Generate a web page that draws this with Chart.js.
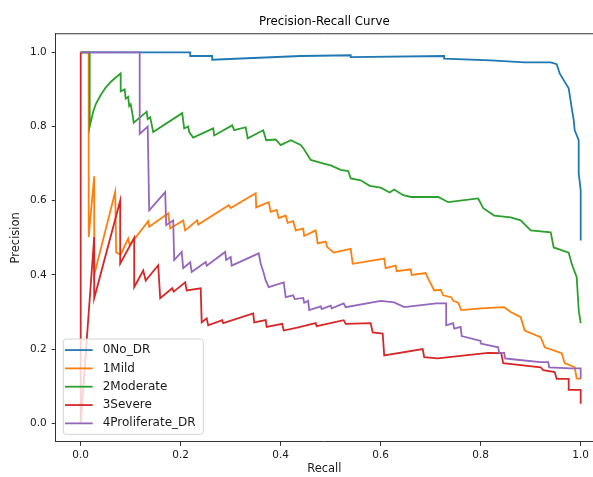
<!DOCTYPE html>
<html>
<head>
<meta charset="utf-8">
<title>Precision-Recall Curve</title>
<script src="https://cdn.jsdelivr.net/npm/chart.js@4.4.1/dist/chart.umd.min.js"></script>
<style>
	html, body { margin: 0; padding: 0; background: #fff; overflow: hidden; }
</style>
</head>
<body>
<canvas id="prChart" width="593" height="477"></canvas>
<script>
// class names (legend order)
const classNames = ['0No_DR', '1Mild', '2Moderate', '3Severe', '4Proliferate_DR'];
const classColors = ['#1f77b4', '#ff7f0e', '#2ca02c', '#d62728', '#9467bd'];

// tick labels
const recallTicks = [0.0, 0.2, 0.4, 0.6, 0.8, 1.0];
const precisionTicks = [0.0, 0.2, 0.4, 0.6, 0.8, 1.0];

// curves as [recall, precision] pairs
const noDrCurve = [
	[0, 1], [0.219, 1], [0.219, 0.99], [0.263, 0.99], [0.263, 0.98], [0.44, 0.99],
	[0.54, 0.992], [0.54, 0.987], [0.727, 0.99], [0.727, 0.983], [0.82, 0.978],
	[0.888, 0.973], [0.94, 0.973], [0.952, 0.968], [0.958, 0.943], [0.966, 0.925],
	[0.976, 0.903], [0.982, 0.85], [0.986, 0.817], [0.988, 0.79], [0.996, 0.763],
	[0.996, 0.674], [1.0, 0.628], [1.0, 0.493]
];

const mildCurve = [
	[0, 1], [0.016, 1], [0.016, 0.502], [0.027, 0.666], [0.027, 0.40], [0.069, 0.624],
	[0.071, 0.46], [0.08, 0.455], [0.095, 0.498], [0.098, 0.48], [0.135, 0.545],
	[0.137, 0.53], [0.175, 0.566], [0.179, 0.525], [0.205, 0.547], [0.209, 0.52],
	[0.233, 0.547], [0.235, 0.536], [0.296, 0.588], [0.30, 0.58], [0.35, 0.62],
	[0.351, 0.582], [0.376, 0.596], [0.38, 0.57], [0.392, 0.575], [0.396, 0.553],
	[0.41, 0.56], [0.414, 0.54], [0.425, 0.545], [0.43, 0.52], [0.445, 0.525],
	[0.447, 0.505], [0.47, 0.52], [0.474, 0.485], [0.49, 0.49], [0.493, 0.475],
	[0.506, 0.46], [0.54, 0.47], [0.544, 0.43], [0.607, 0.444], [0.61, 0.418],
	[0.63, 0.425], [0.632, 0.41], [0.66, 0.415], [0.662, 0.40], [0.69, 0.405],
	[0.695, 0.39], [0.707, 0.358], [0.72, 0.36], [0.725, 0.345], [0.741, 0.34],
	[0.745, 0.33], [0.755, 0.325], [0.761, 0.305], [0.8, 0.31], [0.847, 0.313],
	[0.86, 0.3], [0.88, 0.286], [0.888, 0.25], [0.92, 0.232], [0.928, 0.205],
	[0.962, 0.189], [0.968, 0.162], [0.988, 0.151], [0.992, 0.121], [1.0, 0.12]
];

const moderateCurve = [
	[0, 1], [0.018, 1], [0.018, 0.8], [0.025, 0.84], [0.03, 0.86], [0.04, 0.885],
	[0.05, 0.905], [0.06, 0.92], [0.07, 0.932], [0.08, 0.943], [0.08, 0.895],
	[0.088, 0.9], [0.09, 0.875], [0.095, 0.88], [0.097, 0.855], [0.1, 0.86],
	[0.104, 0.83], [0.106, 0.81], [0.132, 0.84], [0.134, 0.82], [0.139, 0.825],
	[0.145, 0.785], [0.203, 0.836], [0.207, 0.795], [0.215, 0.8], [0.217, 0.785],
	[0.225, 0.77], [0.265, 0.795], [0.267, 0.776], [0.303, 0.803], [0.307, 0.79],
	[0.33, 0.798], [0.334, 0.768], [0.365, 0.79], [0.371, 0.763], [0.39, 0.765],
	[0.4, 0.75], [0.42, 0.763], [0.44, 0.75], [0.446, 0.74], [0.46, 0.71],
	[0.486, 0.70], [0.5, 0.695], [0.52, 0.683], [0.535, 0.68], [0.54, 0.66],
	[0.56, 0.655], [0.578, 0.64], [0.6, 0.635], [0.618, 0.622], [0.627, 0.63],
	[0.645, 0.615], [0.661, 0.61], [0.715, 0.61], [0.735, 0.596], [0.795, 0.606],
	[0.805, 0.58], [0.827, 0.56], [0.86, 0.555], [0.88, 0.547], [0.9, 0.52],
	[0.94, 0.515], [0.946, 0.474], [0.976, 0.46], [0.982, 0.43], [0.992, 0.394],
	[0.996, 0.305], [1.0, 0.27]
];

const severeCurve = [
	[0, 1], [0, 0], [0.027, 0.502], [0.027, 0.337], [0.079, 0.60], [0.079, 0.43],
	[0.107, 0.50], [0.107, 0.367], [0.125, 0.412], [0.13, 0.385], [0.155, 0.426],
	[0.159, 0.337], [0.183, 0.364], [0.186, 0.355], [0.209, 0.38], [0.212, 0.358],
	[0.24, 0.364], [0.242, 0.272], [0.252, 0.283], [0.255, 0.264], [0.283, 0.278],
	[0.285, 0.27], [0.345, 0.296], [0.347, 0.272], [0.37, 0.278], [0.372, 0.26],
	[0.403, 0.268], [0.406, 0.25], [0.433, 0.258], [0.47, 0.27], [0.472, 0.262],
	[0.526, 0.278], [0.53, 0.268], [0.58, 0.27], [0.584, 0.245], [0.604, 0.242],
	[0.607, 0.183], [0.684, 0.20], [0.687, 0.178], [0.714, 0.175], [0.815, 0.19],
	[0.841, 0.189], [0.845, 0.162], [0.92, 0.151], [0.925, 0.143], [0.948, 0.138],
	[0.952, 0.12], [0.976, 0.12], [0.976, 0.09], [1.0, 0.09], [1.0, 0.053]
];

const proliferateCurve = [
	[0, 1], [0.118, 1], [0.118, 0.78], [0.134, 0.80], [0.137, 0.574], [0.169, 0.623],
	[0.171, 0.534], [0.185, 0.547], [0.187, 0.44], [0.202, 0.462], [0.205, 0.418],
	[0.219, 0.434], [0.222, 0.408], [0.25, 0.435], [0.252, 0.425], [0.289, 0.462],
	[0.291, 0.44], [0.3, 0.448], [0.302, 0.425], [0.356, 0.458], [0.36, 0.43],
	[0.365, 0.41], [0.37, 0.385], [0.376, 0.367], [0.406, 0.38], [0.41, 0.34],
	[0.425, 0.345], [0.428, 0.335], [0.445, 0.338], [0.447, 0.325], [0.455, 0.33],
	[0.457, 0.305], [0.48, 0.315], [0.482, 0.308], [0.5, 0.317], [0.502, 0.31],
	[0.526, 0.323], [0.53, 0.313], [0.6, 0.33], [0.627, 0.326], [0.647, 0.313],
	[0.711, 0.323], [0.731, 0.323], [0.731, 0.264], [0.745, 0.27], [0.747, 0.255],
	[0.76, 0.26], [0.762, 0.235], [0.8, 0.222], [0.8, 0.215], [0.835, 0.205],
	[0.837, 0.19], [0.847, 0.19], [0.849, 0.175], [0.868, 0.172], [0.92, 0.165],
	[0.935, 0.165], [0.937, 0.151], [0.98, 0.148], [1.0, 0.148], [1.0, 0.12]
];

const curves = [noDrCurve, mildCurve, moderateCurve, severeCurve, proliferateCurve];

const fontFamily = '"DejaVu Sans", sans-serif';
const textColor = '#1a1a1a';
const spineColor = '#333';

// top spine (the right one falls outside the picture)
const axesFrame = {
	id: 'axesFrame',
	afterDraw(chart) {
		const { ctx, chartArea } = chart;
		ctx.save();
		ctx.strokeStyle = spineColor;
		ctx.lineWidth = 1;
		ctx.beginPath();
		ctx.moveTo(chartArea.left, chartArea.top);
		ctx.lineTo(chartArea.right + 2, chartArea.top);
		ctx.stroke();
		ctx.restore();
	}
};

// legend in lower left corner of the axes
const legendBox = {
	id: 'legendBox',
	afterDraw(chart) {
		const { ctx, chartArea } = chart;
		const w = 140, h = 95.3;
		const x = chartArea.left + 7.6;
		const y = chartArea.bottom - 7.5 - h;
		ctx.save();
		ctx.beginPath();
		ctx.roundRect(x, y, w, h, 3);
		ctx.fillStyle = 'rgba(255, 255, 255, 0.8)';
		ctx.fill();
		ctx.strokeStyle = '#d4d4d4';
		ctx.lineWidth = 1;
		ctx.stroke();
		ctx.font = '12px ' + fontFamily;
		ctx.textBaseline = 'middle';
		chart.data.datasets.forEach((ds, i) => {
			const cy = y + 11 + i * 18.33;
			ctx.strokeStyle = ds.borderColor;
			ctx.lineWidth = 1.8;
			ctx.beginPath();
			ctx.moveTo(x + 1.7, cy);
			ctx.lineTo(x + 29.4, cy);
			ctx.stroke();
			ctx.fillStyle = textColor;
			ctx.fillText(ds.label, x + 39.4, cy);
		});
		ctx.restore();
	}
};

const datasets = classNames.map((name, i) => ({
	label: name,
	data: curves[i].map(p => ({ x: p[0], y: p[1] })),
	borderColor: classColors[i],
	backgroundColor: classColors[i],
	borderWidth: 1.8,
	pointRadius: 0,
	tension: 0,
	fill: false,
	order: classNames.length - i
}));

new Chart(document.getElementById('prChart'), {
	type: 'line',
	data: { datasets: datasets },
	options: {
		responsive: false,
		animation: false,
		layout: { padding: 0 },
		plugins: {
			legend: { display: false },
			tooltip: { enabled: false },
			title: {
				display: true,
				text: 'Precision-Recall Curve',
				fullSize: false,
				color: '#000',
				font: { family: fontFamily, size: 11.8, weight: 'normal' },
				padding: { top: 14.8, bottom: 4.8 }
			}
		},
		scales: {
			x: {
				type: 'linear',
				min: -0.05,
				max: 1.0246,
				afterBuildTicks: scale => { scale.ticks = recallTicks.map(v => ({ value: v })); },
				afterFit: scale => { scale.height = 35.15; },
				ticks: {
					callback: v => v.toFixed(1),
					color: textColor,
					font: { family: fontFamily, size: 10.5 },
					padding: 3,
					maxRotation: 0,
					autoSkip: false
				},
				grid: { display: true, drawOnChartArea: false, drawTicks: true, tickLength: 4, color: spineColor },
				border: { display: true, color: spineColor, width: 1 },
				title: {
					display: true,
					text: 'Recall',
					color: textColor,
					font: { family: fontFamily, size: 11.5 },
					padding: { top: 0, bottom: 1 }
				}
			},
			y: {
				type: 'linear',
				min: -0.05,
				max: 1.05,
				afterBuildTicks: scale => { scale.ticks = precisionTicks.map(v => ({ value: v })); },
				afterFit: scale => { scale.width = 55.7; },
				ticks: {
					callback: v => v.toFixed(1),
					color: textColor,
					font: { family: fontFamily, size: 10.5 },
					padding: 5,
					autoSkip: false
				},
				grid: { display: true, drawOnChartArea: false, drawTicks: true, tickLength: 4, color: spineColor },
				border: { display: true, color: spineColor, width: 1 },
				title: {
					display: true,
					text: 'Precision',
					color: textColor,
					font: { family: fontFamily, size: 11.5 },
					padding: { top: 9.5, bottom: 0 }
				}
			}
		}
	},
	plugins: [axesFrame, legendBox]
});
</script>
</body>
</html>
